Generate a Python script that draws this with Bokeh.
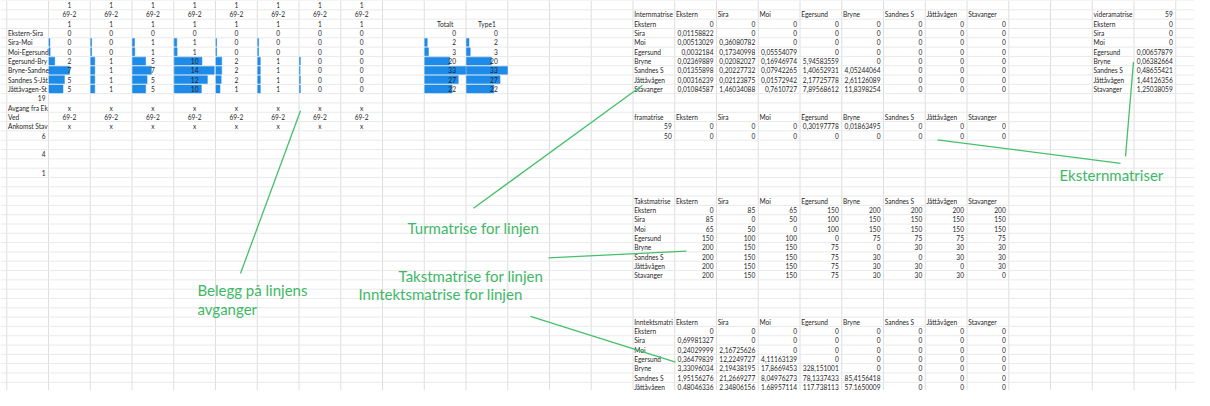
from bokeh.plotting import figure
from bokeh.models import Range1d
from bokeh.embed import file_html
from bokeh.resources import INLINE
from bokeh.core.properties import value

# ---------------- data ----------------
dep_top = ["1"] * 8
dep_route = ["69-2"] * 8
dep_bottom = ["1"] * 8
segment_labels = ["Ekstern-Sira", "Sira-Moi", "Moi-Egersund", "Egersund-Bry",
                  "Bryne-Sandne", "Sandnes S-Jåt", "Jåttåvagen-St"]
# occupancy per departure (column) and segment (row)
belegg = [
    [0, 0.3, 0.4, 2.0, 7.2, 5.4, 4.9],
    [0, 0.3, 0.3, 1.4, 1.4, 1.4, 1.4],
    [0, 0.7, 0.8, 4.6, 6.6, 5.1, 4.6],
    [0, 0.9, 1.0, 9.7, 14.0, 11.6, 9.5],
    [0, 0.2, 0.2, 2.0, 2.0, 1.8, 1.4],
    [0, 0.3, 0.3, 0.9, 0.9, 0.9, 0.9],
    [0, 0.0, 0.0, 0.3, 0.2, 0.3, 0.3],
    [0, 0, 0, 0, 0, 0, 0],
]
side_numbers = ["19", "6", "4", "1"]
info_labels = ["Avgang fra Ek", "Ved", "Ankomst Stav"]
info_values = ["x", "69-2", "x"]
totalt = [0, 2, 3, 20, 33, 27, 22]
type1 = [0, 2, 3, 20, 33, 27, 22]

zones = ["Ekstern", "Sira", "Moi", "Egersund", "Bryne", "Sandnes S", "Jåttåvågen", "Stavanger"]
intern = [
    [0, 0, 0, 0, 0, 0, 0, 0],
    [0.01158822, 0, 0, 0, 0, 0, 0, 0],
    [0.00513029, 0.36080782, 0, 0, 0, 0, 0, 0],
    [0.0032184, 0.17340998, 0.05554079, 0, 0, 0, 0, 0],
    [0.02369889, 0.02082027, 0.16946974, 5.94583559, 0, 0, 0, 0],
    [0.01355898, 0.20227732, 0.07942265, 1.40652931, 4.05244064, 0, 0, 0],
    [0.00316239, 0.02123875, 0.01572942, 2.17725778, 2.61126089, 0, 0, 0],
    [0.01084587, 1.46034088, 0.7610727, 7.89568612, 11.8398254, 0, 0, 0],
]
fram_ids = [59, 50]
fram = [
    [0, 0, 0, 0.30197778, 0.01863495, 0, 0, 0],
    [0, 0, 0, 0, 0, 0, 0, 0],
]
videre_id = 59
videre = [0, 0, 0, 0.00657879, 0.06382664, 0.48655421, 1.44126356, 1.25038059]
takst = [
    [0, 85, 65, 150, 200, 200, 200, 200],
    [85, 0, 50, 100, 150, 150, 150, 150],
    [65, 50, 0, 100, 150, 150, 150, 150],
    [150, 100, 100, 0, 75, 75, 75, 75],
    [200, 150, 150, 75, 0, 30, 30, 30],
    [200, 150, 150, 75, 30, 0, 30, 30],
    [200, 150, 150, 75, 30, 30, 0, 30],
    [200, 150, 150, 75, 30, 30, 30, 0],
]
inntekt = [
    [0, 0, 0, 0, 0, 0, 0, 0],
    [0.69981327, 0, 0, 0, 0, 0, 0, 0],
    [0.24029999, 2.16725626, 0, 0, 0, 0, 0, 0],
    [0.36479839, 12.2249727, 4.11163139, 0, 0, 0, 0, 0],
    [3.33096034, 2.19438195, 17.8669453, 328.151001, 0, 0, 0, 0],
    [1.95156276, 21.2669277, 8.04976273, 78.1337433, 85.4156418, 0, 0, 0],
    [0.48046336, 2.34806156, 1.68957114, 117.738113, 57.1650009, 0, 0, 0],
    [1.8865612, 160.220505, 83.5308035, 425.098513, 357.417418, 0, 0, 0],
]
annotations = ["Turmatrise for linjen", "Takstmatrise for linjen",
               "Inntektsmatrise for linjen", "Belegg på linjens", "avganger", "Eksternmatriser"]

# ---------------- layout helpers ----------------
ROW_H = 9.55
ROW0 = 4.8
COL_W = 41.75
COL0 = 6.25
FONT = value("Lato")
TXT = "#1e1e1e"
BAR = "#1f8be8"
GREEN_T = "#3fb866"
GREEN_L = "#45c06a"


def ry(i):
    return ROW0 + ROW_H * i


def cl(c):
    return COL0 + COL_W * c


def fmt(v):
    if v == 0:
        return "0"
    if float(v).is_integer():
        return str(int(v))
    n = len(str(int(abs(v))))
    s = f"{v:.{max(10 - n - 1, 0)}f}".rstrip("0").rstrip(".")
    return s.replace(".", ",")


p = figure(width=1194, height=390, x_range=Range1d(0, 1194), y_range=Range1d(400, 0),
           output_backend="svg", toolbar_location=None, min_border=0)
p.axis.visible = False
p.xgrid.visible = False
p.ygrid.visible = False
p.outline_line_color = None
p.background_fill_color = "white"

# spreadsheet grid
vx = [cl(c) for c in range(0, 29)]
p.segment(x0=vx, y0=[0] * len(vx), x1=vx, y1=[410] * len(vx), line_color="#dedede", line_width=1)
hy = [ry(i + 0.5) for i in range(-1, 43)]
p.segment(x0=[0] * len(hy), y0=hy, x1=[1210] * len(hy), y1=hy, line_color="#e9e9e9", line_width=1)

texts = {"left": ([], [], []), "center": ([], [], []), "right": ([], [], [])}


def put(align, x, y, t):
    texts[align][0].append(x)
    texts[align][1].append(y)
    texts[align][2].append(t)


# ---- belegg block ----
bl, br, bt, bb = [], [], [], []
max_b = max(max(col) for col in belegg)
for k in range(8):
    c = k + 1
    xc = cl(c) + COL_W / 2
    put("center", xc, ry(0), dep_top[k])
    put("center", xc, ry(1), dep_route[k])
    put("center", xc, ry(2), dep_bottom[k])
    for r, v in enumerate(belegg[k]):
        put("center", xc, ry(3 + r), str(round(v)))
        if v > 0:
            bl.append(cl(c) + 0.5)
            br.append(cl(c) + 0.5 + v / max_b * 40)
            bt.append(ry(3 + r) - 4)
            bb.append(ry(3 + r) + 4)
    for j, t in enumerate(info_values):
        put("center", xc, ry(11 + j), t)
for r, lab in enumerate(segment_labels):
    put("left", cl(0) + 1.2, ry(3 + r), lab)
for j, lab in enumerate(info_labels):
    put("left", cl(0) + 1.2, ry(11 + j), lab)
for n, row in zip(side_numbers, [10, 14, 16, 18]):
    put("right", cl(1) - 3, ry(row), n)

# ---- totals ----
for c, name, vals in [(10, "Totalt", totalt), (11, "Type1", type1)]:
    put("center", cl(c) + COL_W / 2, ry(2), name)
    mx = max(vals)
    for r, v in enumerate(vals):
        put("right", cl(c + 1) - 10, ry(3 + r), str(v))
        if v > 0:
            bl.append(cl(c) + 0.5)
            br.append(cl(c) + 0.5 + v / mx * 41)
            bt.append(ry(3 + r) - 4)
            bb.append(ry(3 + r) + 4)

p.quad(left=bl, right=br, top=bt, bottom=bb, fill_color=BAR, line_color=BAR, line_width=0.5)


# ---- matrices ----
def matrix(title, row0, c0, rows, row_labels):
    put("left", cl(c0) + 1.2, ry(row0), title)
    for j, z in enumerate(zones):
        put("left", cl(c0 + 1 + j) + 1.2, ry(row0), z)
    for i, vals in enumerate(rows):
        lab = row_labels[i]
        if isinstance(lab, str):
            put("left", cl(c0) + 1.2, ry(row0 + 1 + i), lab)
        else:
            put("right", cl(c0 + 1) - 3, ry(row0 + 1 + i), str(lab))
        for j, v in enumerate(vals):
            put("right", cl(c0 + 2 + j) - 3, ry(row0 + 1 + i), fmt(v))


matrix("Internmatrise", 1, 15, intern, zones)
matrix("framatrise", 12, 15, fram, fram_ids)
matrix("Takstmatrise", 21, 15, takst, zones)
matrix("Inntektsmatri", 34, 15, inntekt, zones)

put("left", cl(26) + 1.2, ry(1), "videramatrise")
put("right", cl(28) - 3, ry(1), str(videre_id))
for i, z in enumerate(zones):
    put("left", cl(26) + 1.2, ry(2 + i), z)
    put("right", cl(28) - 3, ry(2 + i), fmt(videre[i]))

for align, (xs, ys, ts) in texts.items():
    p.text(x=xs, y=ys, text=ts, text_align=align, text_baseline="middle",
           text_font=FONT, text_font_size="6.6px", text_color=TXT)

# ---- annotations ----
ann_x = [407, 398, 358, 197, 197, 1059]
ann_y = [233, 283, 301, 297, 316, 179]
p.text(x=ann_x, y=ann_y, text=annotations, text_align="left", text_baseline="middle",
       text_font=FONT, text_font_size="15px", text_color=GREEN_T)
p.segment(x0=[473, 548, 530, 240, 1125, 1120], y0=[213, 264, 324, 280, 160, 167],
          x1=[642, 686, 675, 300, 1133, 937], y1=[87, 257, 371, 113, 63, 143],
          line_color=GREEN_L, line_width=1.3)

open("out.html", "w").write(file_html(p, INLINE))
